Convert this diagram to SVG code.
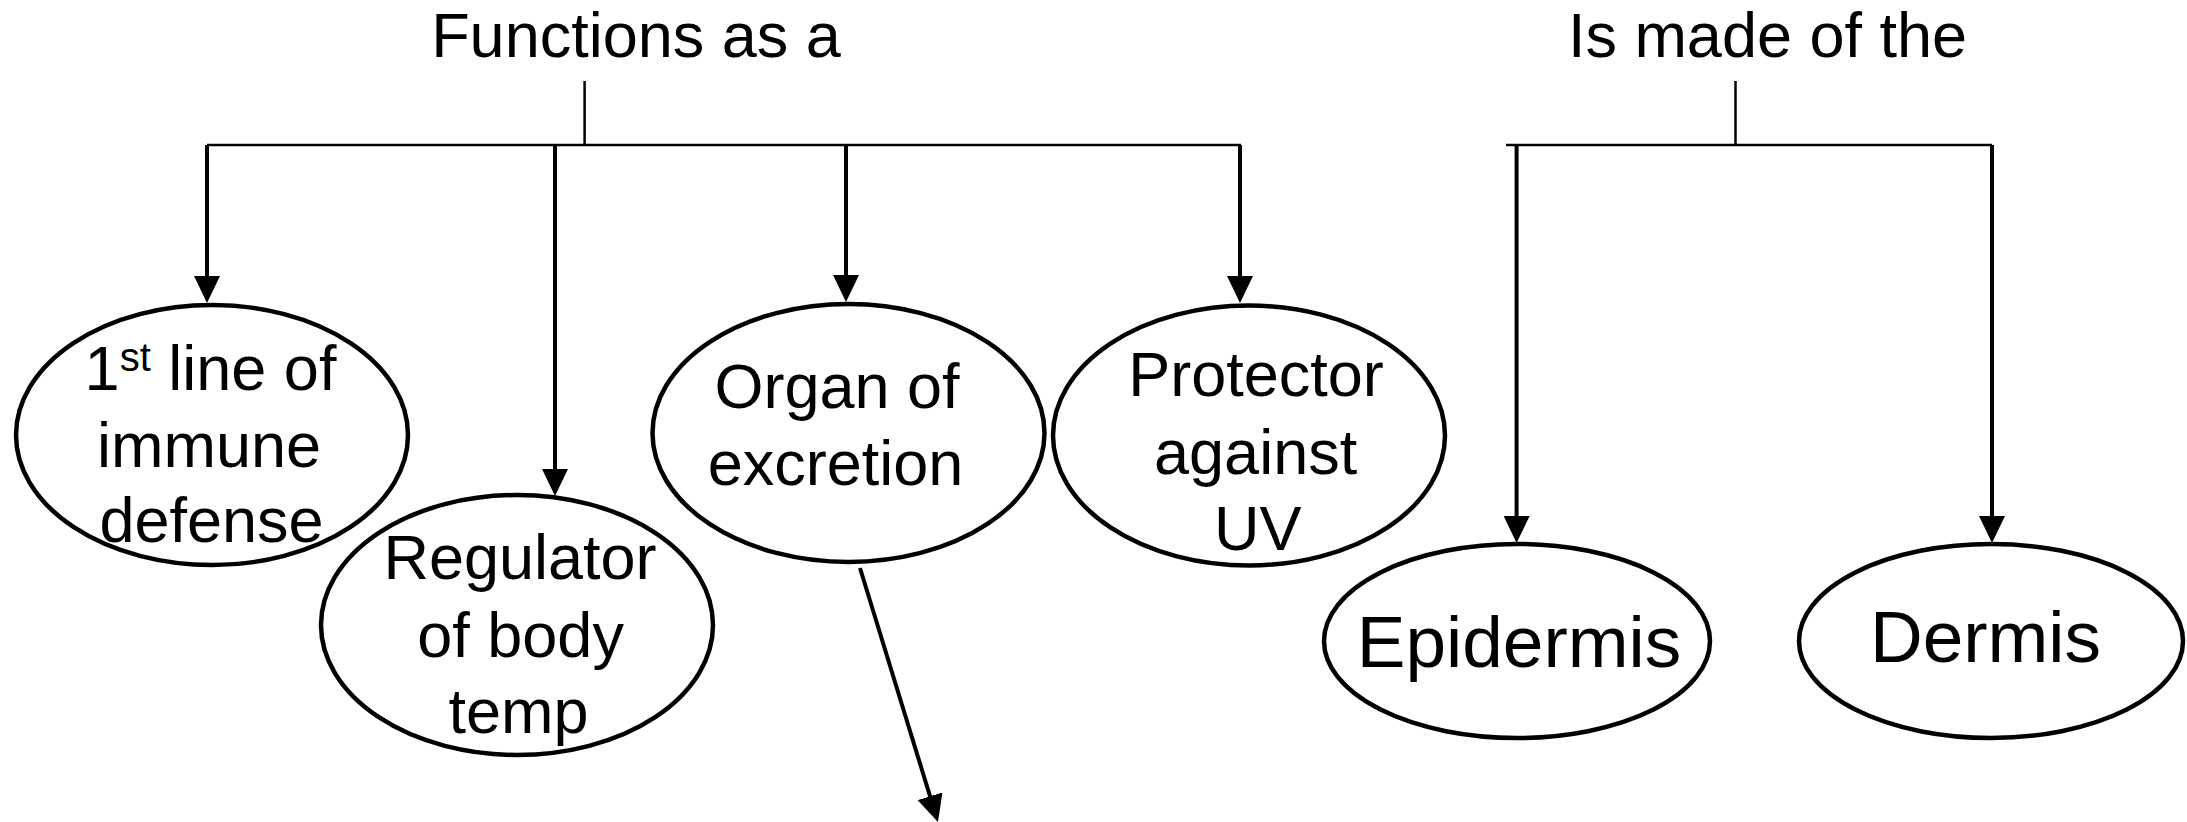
<svg xmlns="http://www.w3.org/2000/svg" width="2187" height="822" viewBox="0 0 2187 822">
<style>
text{font-family:"Liberation Sans",Arial,sans-serif;font-size:63px;fill:#000;text-anchor:middle}
.big{font-size:73px}
ellipse{fill:#fff;stroke:#000;stroke-width:4.5}
.bar{stroke:#000;stroke-width:2.5;fill:none}
.arr{stroke:#000;stroke-width:4;fill:none;marker-end:url(#ah)}
</style>
<defs>
<marker id="ah" markerUnits="userSpaceOnUse" markerWidth="28" markerHeight="26" refX="5" refY="13" orient="auto" viewBox="0 0 28 26">
<path d="M0,0 L27,13 L0,26 z" fill="#000"/>
</marker>
</defs>
<g id="connectors">
<line class="bar" x1="584.6" y1="81" x2="584.6" y2="145"/>
<line class="bar" x1="207" y1="145" x2="1241" y2="145"/>
<line class="arr" x1="207" y1="145" x2="207" y2="281"/>
<line class="arr" x1="555" y1="145" x2="555" y2="474"/>
<line class="arr" x1="846" y1="145" x2="846" y2="280"/>
<line class="arr" x1="1240" y1="145" x2="1240" y2="281"/>
<line class="bar" x1="1735.5" y1="81" x2="1735.5" y2="145"/>
<line class="bar" x1="1506" y1="145" x2="1992" y2="145"/>
<line class="arr" x1="1516.6" y1="145" x2="1516.6" y2="521"/>
<line class="arr" x1="1992" y1="145" x2="1992" y2="521"/>
<line class="arr" x1="860" y1="568" x2="931.5" y2="801"/>
</g>
<g id="title-functions"><text x="636" y="57">Functions as a</text></g>
<g id="title-made"><text x="1767.5" y="57">Is made of the</text></g>
<g id="node-immune">
<ellipse cx="212" cy="435" rx="196" ry="130"/>
<text x="210.5" y="390">1<tspan font-size="40" dy="-19">st</tspan><tspan dy="19"> line of</tspan></text>
<text x="209" y="466.7">immune</text>
<text x="211.5" y="541.7">defense</text>
</g>
<g id="node-regulator">
<ellipse cx="517" cy="625" rx="196" ry="130"/>
<text x="520" y="579">Regulator</text>
<text x="520.6" y="657">of body</text>
<text x="518.5" y="733">temp</text>
</g>
<g id="node-organ">
<ellipse cx="848.5" cy="433" rx="196" ry="129"/>
<text x="837" y="408">Organ of</text>
<text x="835.5" y="484.6">excretion</text>
</g>
<g id="node-protector">
<ellipse cx="1249" cy="435.5" rx="196" ry="130"/>
<text x="1256" y="396">Protector</text>
<text x="1255.6" y="473.6">against</text>
<text x="1257.8" y="550">UV</text>
</g>
<g id="node-epidermis">
<ellipse cx="1517" cy="641" rx="193" ry="97"/>
<text class="big" x="1519" y="667">Epidermis</text>
</g>
<g id="node-dermis">
<ellipse cx="1991" cy="641" rx="192" ry="97"/>
<text class="big" x="1985.5" y="662">Dermis</text>
</g>
</svg>
